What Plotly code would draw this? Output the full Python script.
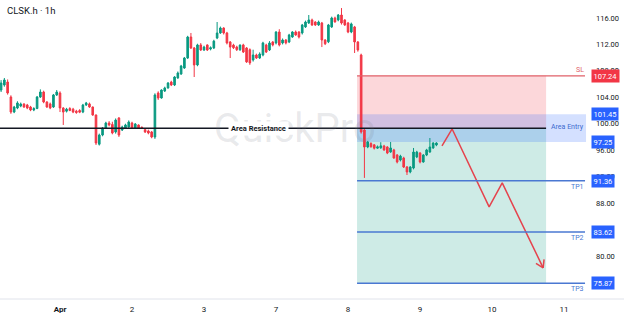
import numpy as np
import plotly.graph_objects as go

# ---------------- data (1h bars) ----------------
FIRST_BAR = -18          # bar index of first visible bar (Apr 1 first bar = 0, 22 bars per day)
BARS_PER_DAY = 22

bar_open = [
    # Mar 31 (partial)
    105.10, 105.86, 106.31, 104.04, 101.77, 102.38, 102.68, 102.98, 102.83, 102.53, 102.08, 102.30,
    104.04, 104.80, 103.29, 103.00, 102.53, 104.35,
    # Apr 1
    104.65, 102.38, 101.90, 102.30, 102.20, 101.90, 102.00, 101.77, 102.83, 103.00, 102.53, 101.32,
    96.90, 98.29, 99.35, 100.11, 99.90, 98.75, 100.87, 99.05, 99.35, 99.50,
    # Apr 2
    100.11, 99.35, 99.81, 99.45, 99.10, 98.90, 98.75, 97.99, 104.65, 103.89, 104.95, 105.41,
    106.31, 105.86, 106.92, 107.52, 108.43, 109.94, 113.12, 111.46, 108.89, 111.92,
    # Apr 3
    111.16, 111.92, 111.30, 111.46, 112.97, 113.73, 114.48, 113.73, 112.37, 111.90, 111.60, 111.20,
    111.92, 111.46, 111.20, 109.65, 110.40, 109.94, 110.40, 111.92, 111.16, 112.37,
    # Apr 7
    112.22, 113.88, 112.22, 112.67, 112.37, 113.12, 113.88, 113.88, 113.73, 114.64, 115.24, 115.70,
    115.39, 114.94, 115.24, 112.67, 112.40, 114.64, 116.00, 115.70, 116.45, 115.70,
    # Apr 8
    115.24, 113.88, 114.64, 112.37, 110.40, 99.05, 96.48, 97.00, 96.80, 96.30, 96.35, 96.63,
    96.48, 95.72, 96.03, 95.27, 94.51, 94.81, 93.45, 92.70, 93.30, 94.97,
    # Apr 9
    95.57, 94.21, 95.27, 95.72, 96.33, 96.78,
]
bar_high = [
    106.60, 106.92, 106.70, 104.30, 102.70, 103.40, 103.20, 103.10, 103.00, 102.70, 102.50, 104.20,
    105.20, 105.00, 103.40, 103.20, 104.50, 105.10,
    104.90, 102.50, 102.40, 102.50, 102.40, 102.10, 102.20, 103.00, 103.30, 103.20, 102.60, 101.40,
    98.50, 99.50, 100.30, 100.40, 100.30, 100.80, 101.00, 99.70, 100.00, 100.50,
    100.30, 100.10, 99.90, 99.60, 99.30, 99.10, 98.90, 104.60, 104.90, 105.20, 105.60, 106.30,
    106.50, 107.20, 107.90, 108.90, 110.10, 113.30, 113.73, 111.60, 112.10, 112.20,
    111.80, 112.00, 111.70, 112.70, 115.39, 114.70, 114.60, 113.90, 112.50, 112.10, 111.80, 112.00,
    112.10, 111.60, 111.40, 111.20, 110.60, 110.80, 112.40, 112.10, 112.50, 112.50,
    114.00, 114.30, 112.90, 112.80, 113.60, 114.00, 114.10, 114.00, 115.10, 115.60, 116.45, 115.90,
    115.50, 115.60, 115.40, 112.80, 115.10, 116.20, 116.20, 116.60, 117.50, 115.80,
    115.40, 115.30, 114.80, 112.50, 110.60, 99.20, 97.40, 97.20, 96.90, 96.70, 97.20, 96.80,
    96.60, 97.24, 96.20, 95.40, 95.30, 95.00, 93.60, 93.60, 96.33, 95.90,
    95.70, 95.40, 96.20, 97.84, 97.20, 97.20,
]
bar_low = [
    104.80, 105.60, 104.40, 101.50, 101.60, 102.20, 102.50, 102.40, 102.20, 101.90, 101.90, 102.20,
    103.90, 103.10, 102.40, 102.20, 102.40, 104.20,
    101.77, 99.81, 101.70, 101.90, 101.60, 101.50, 101.60, 101.60, 102.70, 102.40, 101.20, 96.78,
    96.70, 98.10, 99.20, 99.60, 98.40, 98.50, 98.00, 98.90, 99.20, 99.40,
    99.20, 99.20, 99.20, 99.20, 98.60, 98.40, 97.80, 97.70, 103.60, 103.80, 104.80, 105.30,
    105.70, 105.70, 106.80, 107.40, 108.30, 109.80, 111.30, 107.07, 108.70, 111.00,
    111.00, 111.00, 111.10, 111.30, 112.80, 113.60, 113.50, 112.00, 109.94, 111.30, 111.00, 111.00,
    110.70, 109.20, 108.90, 109.40, 109.80, 109.80, 110.20, 110.70, 111.00, 111.70,
    112.00, 111.70, 112.00, 112.00, 112.20, 113.00, 113.30, 112.90, 113.50, 114.50, 115.10, 114.80,
    114.80, 114.80, 111.60, 111.90, 112.20, 114.50, 115.30, 115.50, 115.00, 114.80,
    113.70, 113.70, 110.70, 110.90, 98.50, 91.80, 96.30, 96.40, 96.10, 96.20, 96.20, 95.90,
    95.40, 95.60, 94.70, 94.00, 94.30, 93.30, 92.24, 92.50, 93.10, 94.80,
    94.00, 94.10, 95.10, 95.60, 96.20, 96.60,
]
bar_close = [
    106.16, 106.62, 104.65, 101.77, 102.53, 103.14, 102.98, 102.53, 102.38, 102.08, 102.30, 104.04,
    104.80, 103.29, 102.53, 102.38, 104.35, 104.80,
    102.38, 101.77, 102.20, 102.00, 101.77, 101.70, 101.75, 102.83, 103.14, 102.53, 101.32, 97.08,
    98.29, 99.35, 100.11, 99.81, 98.60, 100.56, 98.29, 99.50, 99.81, 100.26,
    99.35, 99.96, 99.35, 99.35, 98.75, 98.60, 97.99, 104.35, 103.89, 105.10, 105.41, 106.16,
    105.86, 107.07, 107.67, 108.73, 109.94, 113.12, 111.46, 108.89, 111.92, 111.16,
    111.60, 111.16, 111.50, 112.50, 113.73, 114.48, 113.73, 112.22, 111.60, 111.50, 111.20, 111.90,
    110.85, 109.35, 109.20, 110.40, 109.94, 110.55, 112.22, 110.85, 112.22, 111.92,
    113.88, 111.92, 112.67, 112.22, 113.43, 113.88, 113.43, 113.12, 114.94, 115.39, 115.70, 114.94,
    114.94, 115.39, 112.67, 112.10, 114.94, 116.00, 115.40, 116.45, 115.24, 114.94,
    113.88, 115.10, 112.37, 111.16, 98.75, 96.48, 97.24, 96.50, 96.30, 96.50, 96.65, 96.03,
    95.57, 96.33, 94.81, 94.21, 95.10, 93.45, 92.70, 93.45, 95.72, 95.72,
    94.21, 95.27, 96.03, 96.48, 97.08, 97.08,
]

day_tick_bars = [0, 22, 44, 66, 88, 110, 132, 154]
day_tick_labels = ["<b>Apr</b>", "2", "3", "7", "8", "9", "10", "11"]
price_ticks = [80, 88, 92, 96, 100, 104, 108, 112, 116]

area_resistance = 99.30
sl_price = 107.24
entry_high = 101.45
entry_low = 97.25
tp_prices = [91.36, 83.62, 75.87]
tp_names = ["TP1", "TP2", "TP3"]

# projected path (bar index, price)
proj_x = [116.7, 119.8, 131.1, 135.1, 147.6]
proj_y = [96.64, 99.21, 87.41, 91.04, 78.20]

# ---------------- layout constants ----------------
W, H = 624, 316
M_L, M_R, M_T, M_B = 0, 37, 0, 17
X_MIN, X_MAX = -18.33, 161.0
Y_MIN, Y_MAX = 73.48, 118.72
POS_START, POS_END = 90.75, 148.5
LINE_END = 160.4
BOX_END = 160.7

GREEN = "#089981"
RED = "#f23645"
BLUE = "#2962ff"
TXT = "#131722"
PROJ = "#e5434d"
FONT = "Roboto"

bar_x = np.arange(FIRST_BAR, FIRST_BAR + len(bar_close))

fig = go.Figure()
fig.add_trace(go.Candlestick(
    x=bar_x, open=bar_open, high=bar_high, low=bar_low, close=bar_close,
    increasing=dict(line=dict(color=GREEN, width=1), fillcolor=GREEN),
    decreasing=dict(line=dict(color=RED, width=1), fillcolor=RED),
    whiskerwidth=0, showlegend=False, hoverinfo="skip",
))

fig.add_trace(go.Scatter(
    x=proj_x, y=proj_y, mode="lines",
    line=dict(color=PROJ, width=1.5), showlegend=False, hoverinfo="skip",
))

# open "V" arrow head at the end of the projection, built in pixel space
px_per_x = (W - M_L - M_R) / (X_MAX - X_MIN)
px_per_y = (H - M_T - M_B) / (Y_MAX - Y_MIN)
d = np.array([(proj_x[-1] - proj_x[-2]) * px_per_x, -(proj_y[-1] - proj_y[-2]) * px_per_y])
d = d / np.linalg.norm(d)
head_len, head_ang = 8.5, np.radians(32)
wing_x, wing_y = [], []
for s in (1, -1):
    c, si = np.cos(s * head_ang), np.sin(s * head_ang)
    back = np.array([-d[0] * c + d[1] * si, -d[0] * si - d[1] * c]) * head_len
    wing_x += [proj_x[-1] + back[0] / px_per_x, proj_x[-1], None]
    wing_y += [proj_y[-1] - back[1] / px_per_y, proj_y[-1], None]
fig.add_trace(go.Scatter(
    x=wing_x, y=wing_y, mode="lines",
    line=dict(color=PROJ, width=1.5), showlegend=False, hoverinfo="skip",
))

shapes = [
    dict(type="rect", x0=POS_START, x1=POS_END, y0=area_resistance, y1=sl_price,
         fillcolor="rgba(242,54,69,0.2)", line=dict(width=0), layer="below"),
    dict(type="rect", x0=POS_START, x1=POS_END, y0=tp_prices[-1], y1=area_resistance,
         fillcolor="rgba(8,153,129,0.2)", line=dict(width=0), layer="below"),
    dict(type="rect", x0=POS_START, x1=BOX_END, y0=entry_low, y1=entry_high,
         fillcolor="rgba(41,98,255,0.2)", line=dict(width=0), layer="below"),
    dict(type="line", x0=X_MIN, x1=POS_END, y0=area_resistance, y1=area_resistance,
         line=dict(color=TXT, width=1.5)),
    dict(type="line", x0=POS_START, x1=LINE_END, y0=sl_price, y1=sl_price,
         line=dict(color="#e06069", width=1.3)),
    dict(type="line", xref="paper", yref="paper", x0=0, x1=1.07, y0=0, y1=0,
         line=dict(color="#e0e3eb", width=1)),
]
for tp in tp_prices:
    shapes.append(dict(type="line", x0=POS_START, x1=LINE_END, y0=tp, y1=tp,
                       line=dict(color="#4a78d2", width=1.5)))

annotations = [
    dict(text="CLSK.h · 1h", xref="paper", yref="paper", x=0, y=1, xanchor="left",
         yanchor="top", xshift=5, yshift=-3, showarrow=False,
         font=dict(family=FONT, size=9.5, color=TXT)),
    dict(text="QuickPro", x=71.8, y=area_resistance, showarrow=False,
         font=dict(family=FONT, size=40, color="rgba(120,123,134,0.16)")),
    dict(text="<b>Area Resistance</b>", x=60.5, y=area_resistance, showarrow=False,
         bgcolor="white", borderpad=2, font=dict(family=FONT, size=7.5, color=TXT)),
    dict(text="Area Entry", x=154.9, y=(entry_high + entry_low) / 2 + 0.1, showarrow=False,
         font=dict(family=FONT, size=7, color="#3c6bd0")),
    dict(text="SL", x=158.9, y=sl_price, yshift=6, showarrow=False,
         font=dict(family=FONT, size=7, color="#e06069")),
]
for tp, name in zip(tp_prices, tp_names):
    annotations.append(dict(text=name, x=158.1, y=tp, yshift=-6, showarrow=False,
                            font=dict(family=FONT, size=7, color="#4a78d2")))

price_boxes = [(sl_price, RED), (entry_high, BLUE), (entry_low, BLUE)] + \
              [(tp, BLUE) for tp in tp_prices]
for price, color in price_boxes:
    annotations.append(dict(text=f"{price:.2f}", xref="paper", yref="y", x=1, y=price,
                            xanchor="left", xshift=4, showarrow=False, bgcolor=color,
                            borderpad=1.5, font=dict(family=FONT, size=7.5, color="white")))

fig.update_layout(
    width=W, height=H,
    margin=dict(l=M_L, r=M_R, t=M_T, b=M_B),
    paper_bgcolor="white", plot_bgcolor="white",
    font=dict(family=FONT, color=TXT),
    shapes=shapes, annotations=annotations,
    xaxis=dict(range=[X_MIN, X_MAX], rangeslider=dict(visible=False), showgrid=False,
               zeroline=False, tickmode="array", tickvals=day_tick_bars,
               ticktext=day_tick_labels, tickfont=dict(size=8, color=TXT),
               ticks="", ticklabelstandoff=4),
    yaxis=dict(range=[Y_MIN, Y_MAX], side="right", showgrid=False, zeroline=False,
               tickmode="array", tickvals=price_ticks,
               ticktext=[f"{p:.2f}" for p in price_ticks],
               tickfont=dict(size=7.5, color=TXT), ticks="", ticklabelstandoff=8),
)

fig.write_html("out.html")
